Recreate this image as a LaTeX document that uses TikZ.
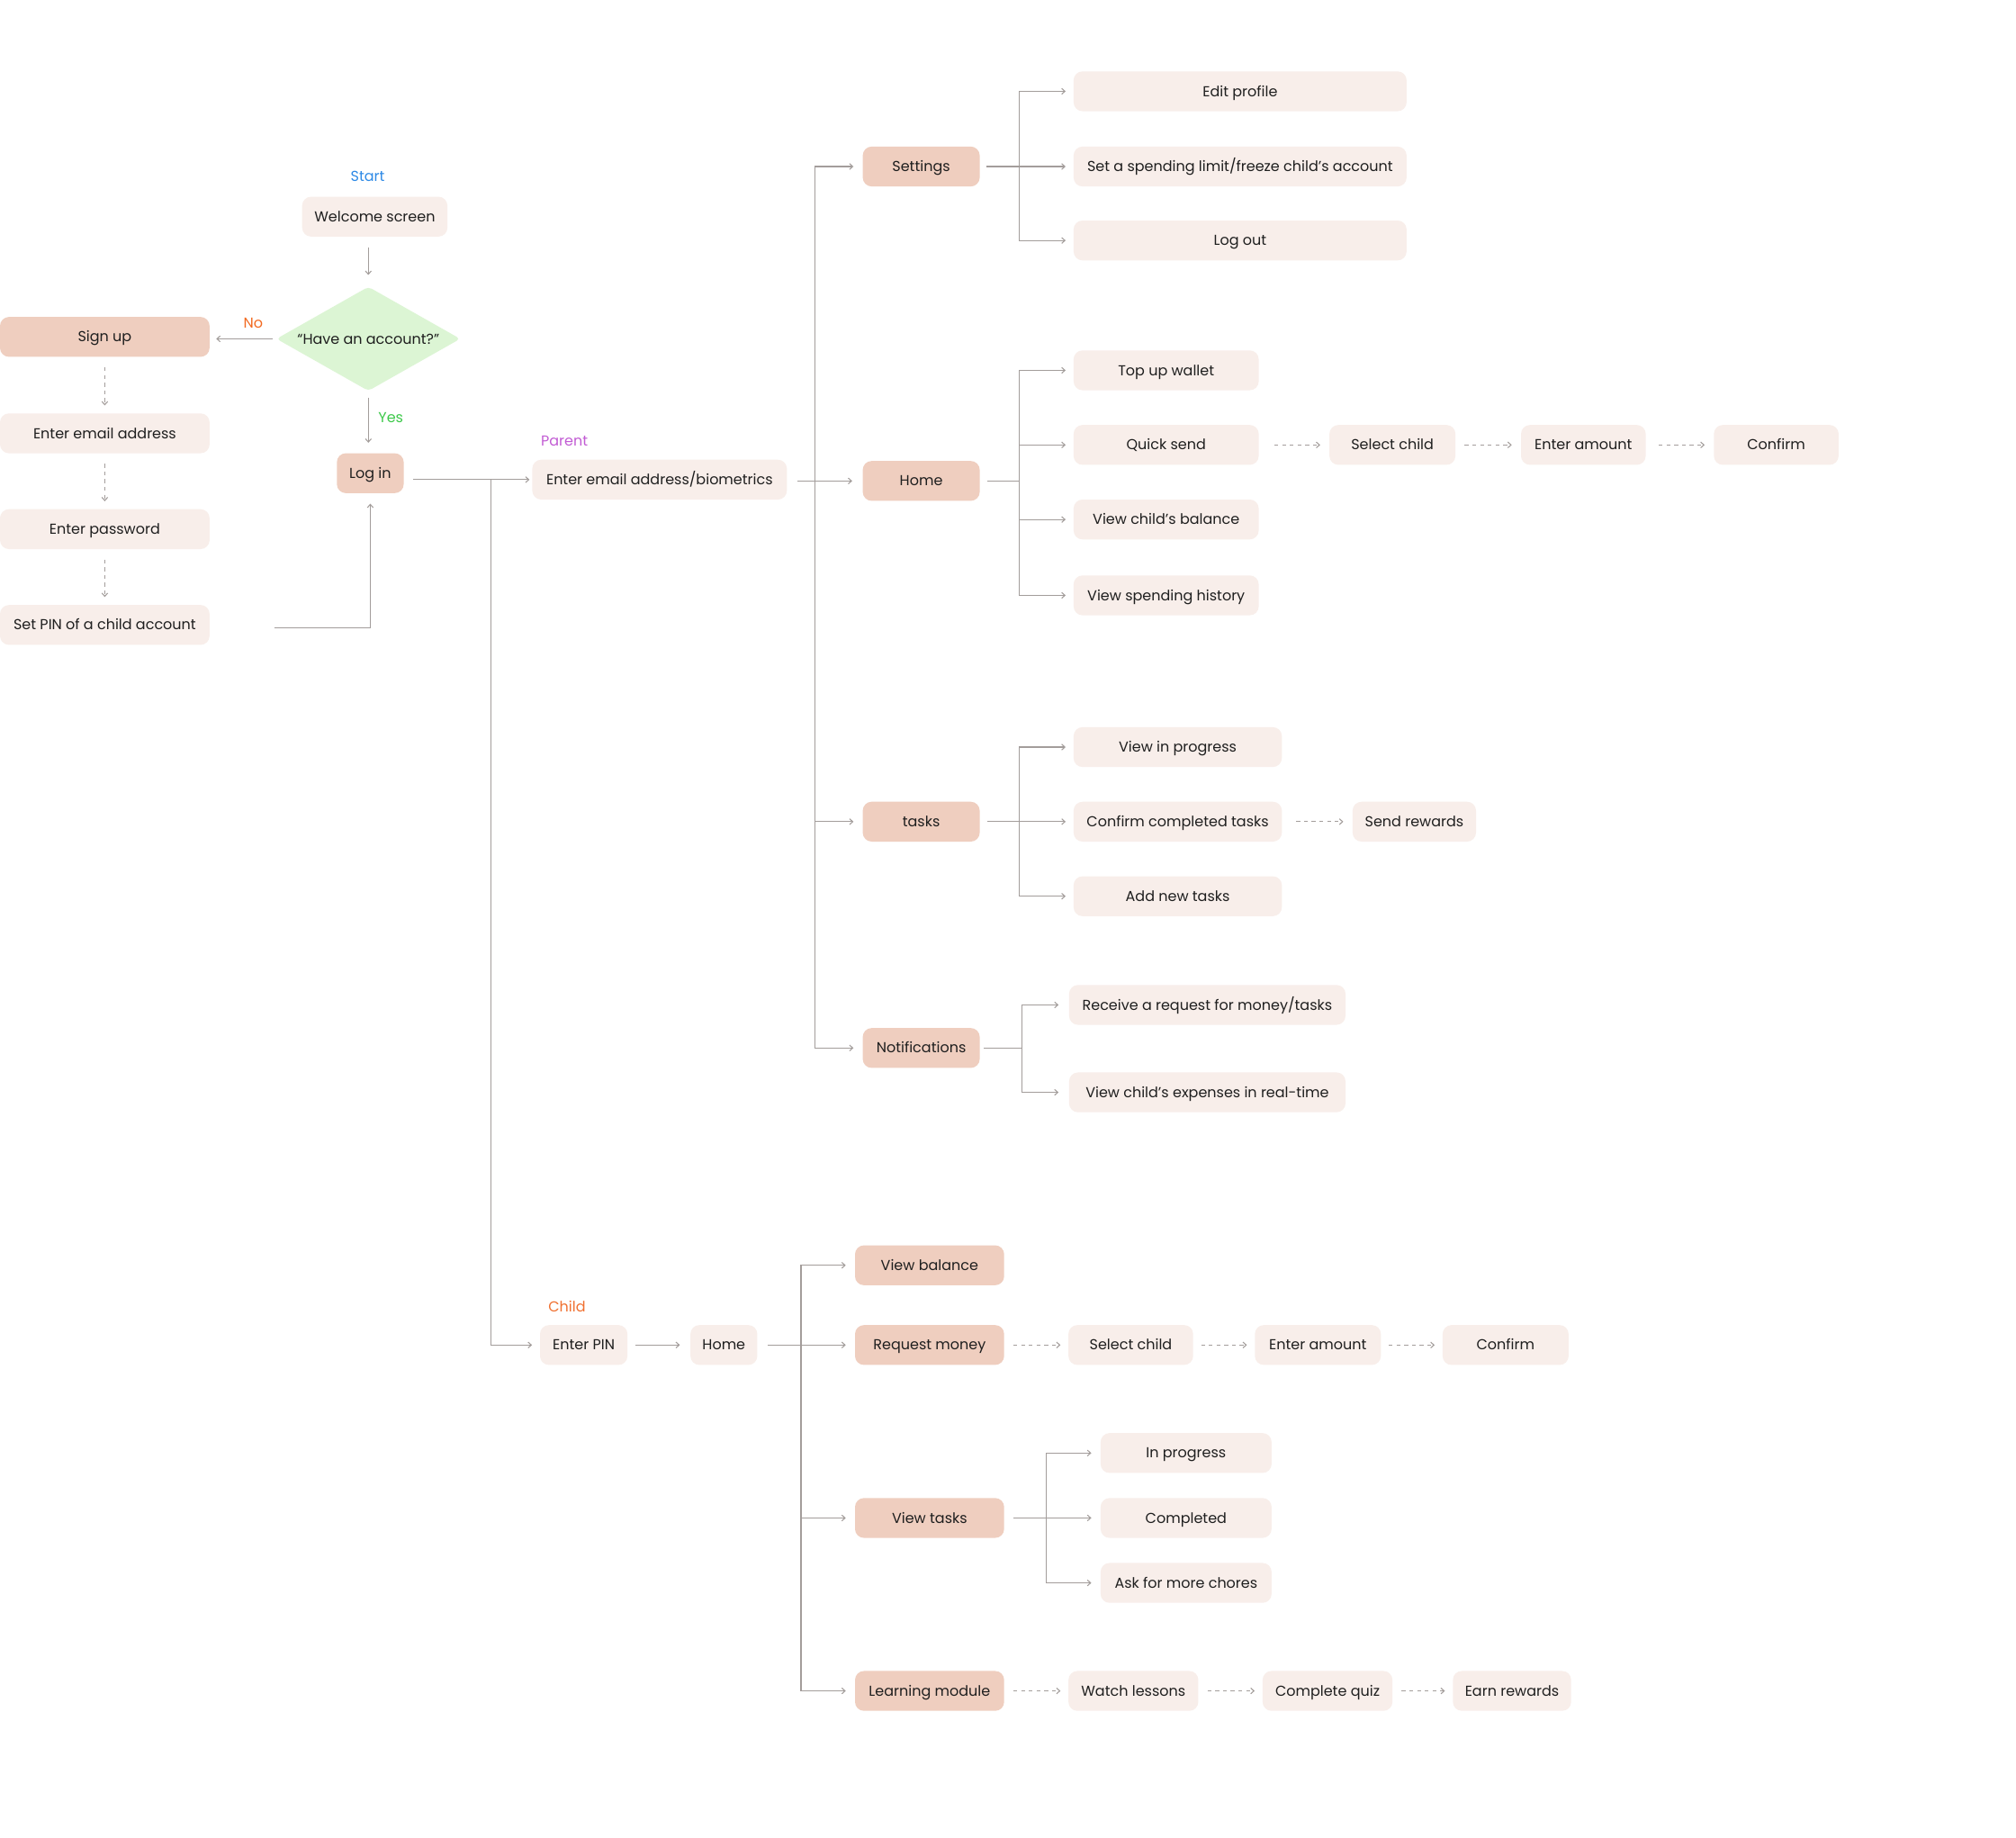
\documentclass[tikz,border=0pt]{standalone}
\usepackage{fontspec}
\setmainfont{Poppins}
\usetikzlibrary{arrows.meta,shapes.geometric}
\definecolor{boxlight}{HTML}{F8EEEA}
\definecolor{boxdark}{HTML}{EFCEBF}
\definecolor{diamfill}{HTML}{DCF5D4}
\definecolor{linec}{HTML}{A39D9B}
\definecolor{txt}{HTML}{1F1F1F}
\definecolor{cStart}{HTML}{2E8AE6}
\definecolor{cNo}{HTML}{F26A21}
\definecolor{cYes}{HTML}{3DC94A}
\definecolor{cParent}{HTML}{C25CD4}
\definecolor{cChild}{HTML}{F07030}
\tikzset{
  fnt/.style={font=\fontsize{11.2}{13}\selectfont, text height=7.9pt, text depth=0pt},
  base/.style={fnt, rounded corners=7pt, minimum height=31pt, inner sep=0pt, text=txt},
  lbox/.style={base, fill=boxlight},
  dbox/.style={base, fill=boxdark},
  diam/.style={diamond, fill=diamfill, rounded corners=3pt, minimum width=143pt, minimum height=81pt, inner sep=0pt, aspect=1.77, text=txt, fnt},
  lab/.style={inner sep=0pt, fnt},
  ln/.style={draw=linec, line width=0.75pt},
  arr/.style={ln, -{Straight Barb[length=2.5pt,width=4.5pt]}},
  dsh/.style={arr, dash pattern=on 3pt off 3pt, shorten <=7pt, shorten >=7pt},
}
\begin{document}
\begin{tikzpicture}[x=1pt,y=-1pt]
\fill[white] (0,0) rectangle (1568,1429);
\useasboundingbox (0,0) rectangle (1568,1429);

% ---------- left column ----------
\node[lab, text=cStart] (start) at (286,137) {Start};
\node[lbox, minimum width=113pt] (welcome) at (291.5,168.5) {Welcome screen};
\node[diam] (q) at (286.5,263.5) {“Have an account?”};
\node[lab, text=cNo] (nolab) at (197,251) {No};
\node[dbox, minimum width=163pt] (signup) at (81.5,262) {Sign up};
\node[lab, text=cYes] (yeslab) at (304,325) {Yes};
\node[dbox, minimum width=52pt] (login) at (288,368) {Log in};
\node[lbox, minimum width=163pt] (email) at (81.5,337) {Enter email address};
\node[lbox, minimum width=163pt] (pass) at (81.5,411.5) {Enter password};
\node[lbox, minimum width=163pt] (pin) at (81.5,486) {Set PIN of a child account};

\draw[arr, shorten <=8pt, shorten >=9pt] (welcome.south -| q.north) -- (q.north);
\draw[arr, shorten <=3pt, shorten >=5pt] (q.west) -- (q.west -| signup.east);
\draw[arr, shorten <=5pt, shorten >=8pt] (q.south) -- (q.south |- login.north);
\draw[dsh, shorten <=8pt, shorten >=6pt] (signup) -- (email);
\draw[dsh, shorten <=8pt, shorten >=6pt] (email) -- (pass);
\draw[dsh, shorten <=8pt, shorten >=6pt] (pass) -- (pin);
\draw[arr, shorten <=50pt, shorten >=8pt] ([yshift=-2pt]pin.east) -| (login.south);

% ---------- parent ----------
\node[lab, text=cParent] (parentlab) at (439,343) {Parent};
\node[lbox, minimum width=198pt] (pemail) at (513,373) {Enter email address/biometrics};
\node[dbox, minimum width=91pt] (settings) at (716.5,129.5) {Settings};
\node[dbox, minimum width=91pt] (phome) at (716.5,374) {Home};
\node[dbox, minimum width=91pt] (tasks) at (716.5,639) {tasks};
\node[dbox, minimum width=91pt] (notif) at (716.5,815) {Notifications};

\draw[arr, shorten <=7pt, shorten >=2pt] (login.east |- pemail.west) -- (pemail.west);

\coordinate (pj) at (634,374);
\draw[arr, shorten <=8pt, shorten >=8pt] (pemail.east |- phome.west) -- (phome.west);
\draw[arr, shorten >=7pt] (pj) |- (settings.west);
\draw[arr, shorten >=7pt] (pj) |- (tasks.west);
\draw[arr, shorten >=7pt] (pj) |- (notif.west);

% settings children
\node[lbox, minimum width=259pt] (editprof) at (964.5,71) {Edit profile};
\node[lbox, minimum width=259pt] (setlim) at (964.5,129.5) {Set a spending limit/freeze child’s account};
\node[lbox, minimum width=259pt] (logout) at (964.5,187) {Log out};
\coordinate (sj) at (793,129.5);
\draw[arr, shorten <=5pt, shorten >=6pt] (settings.east) -- (setlim.west);
\draw[arr, shorten >=6pt] (sj) |- (editprof.west);
\draw[arr, shorten >=6pt] (sj) |- (logout.west);

% home children
\node[lbox, minimum width=144pt] (topup) at (907,288) {Top up wallet};
\node[lbox, minimum width=144pt] (quick) at (907,346) {Quick send};
\node[lbox, minimum width=144pt] (viewbal) at (907,404) {View child’s balance};
\node[lbox, minimum width=144pt] (history) at (907,463) {View spending history};
\node[lbox, minimum width=98pt] (selchild) at (1083,346) {Select child};
\node[lbox, minimum width=97pt] (amount) at (1231.5,346) {Enter amount};
\node[lbox, minimum width=97pt] (confirm) at (1381.5,346) {Confirm};
\coordinate (hj) at (793,374);
\draw[ln, shorten <=6pt] (phome.east) -- (hj);
\draw[arr, shorten >=6pt] (hj) |- (topup.west);
\draw[arr, shorten >=6pt] (hj) |- (quick.west);
\draw[arr, shorten >=6pt] (hj) |- (viewbal.west);
\draw[arr, shorten >=6pt] (hj) |- (history.west);
\draw[dsh, shorten <=12pt] (quick) -- (selchild);
\draw[dsh] (selchild) -- (amount);
\draw[dsh, shorten <=10pt] (amount) -- (confirm);

% tasks children
\node[lbox, minimum width=162pt] (inprog) at (916,581) {View in progress};
\node[lbox, minimum width=162pt] (confirmct) at (916,639) {Confirm completed tasks};
\node[lbox, minimum width=162pt] (addnew) at (916,697) {Add new tasks};
\node[lbox, minimum width=96pt] (sendrew) at (1100,639) {Send rewards};
\coordinate (tj) at (793,639);
\draw[arr, shorten <=6pt, shorten >=6pt] (tasks.east) -- (confirmct.west);
\draw[arr, shorten >=6pt] (tj) |- (inprog.west);
\draw[arr, shorten >=6pt] (tj) |- (addnew.west);
\draw[dsh, shorten <=11pt] (confirmct) -- (sendrew);

% notifications children
\node[lbox, minimum width=215pt] (receive) at (939,781.5) {Receive a request for money/tasks};
\node[lbox, minimum width=215pt] (expenses) at (939,849.5) {View child’s expenses in real-time};
\coordinate (nj) at (795,815);
\draw[ln, shorten <=3pt] (notif.east) -- (nj);
\draw[arr, shorten >=8pt] (nj) |- (receive.west);
\draw[arr, shorten >=8pt] (nj) |- (expenses.west);

% ---------- child ----------
\node[lab, text=cChild] (childlab) at (441,1016) {Child};
\node[lbox, minimum width=68pt] (enterpin) at (454,1046) {Enter PIN};
\node[lbox, minimum width=52pt] (chome) at (563,1046) {Home};
\node[dbox, minimum width=116pt] (viewbalc) at (723,984) {View balance};
\node[dbox, minimum width=116pt] (reqmoney) at (723,1046) {Request money};
\node[dbox, minimum width=116pt] (viewtasks) at (723,1180.5) {View tasks};
\node[dbox, minimum width=116pt] (learning) at (723,1315) {Learning module};

\coordinate (lj) at (382,373);
\draw[arr, shorten >=6pt] (lj) |- (enterpin.west);

\draw[arr, shorten <=6pt, shorten >=8pt] (enterpin) -- (chome);
\coordinate (cj) at (623,1046);
\draw[arr, shorten <=8pt, shorten >=7pt] (chome) -- (reqmoney);
\draw[arr, shorten >=7pt] (cj) |- (viewbalc.west);
\draw[arr, shorten >=7pt] (cj) |- (viewtasks.west);
\draw[arr, shorten >=7pt] (cj) |- (learning.west);

\node[lbox, minimum width=97pt] (selchild2) at (879.5,1046) {Select child};
\node[lbox, minimum width=98pt] (amount2) at (1025,1046) {Enter amount};
\node[lbox, minimum width=98pt] (confirm2) at (1171,1046) {Confirm};
\draw[dsh, shorten >=6pt] (reqmoney) -- (selchild2);
\draw[dsh, shorten <=6pt, shorten >=6pt] (selchild2) -- (amount2);
\draw[dsh, shorten <=6pt, shorten >=6pt] (amount2) -- (confirm2);

\node[lbox, minimum width=133pt] (inprog2) at (922.5,1130) {In progress};
\node[lbox, minimum width=133pt] (completed) at (922.5,1180.5) {Completed};
\node[lbox, minimum width=133pt] (askmore) at (922.5,1231) {Ask for more chores};
\coordinate (vj) at (814,1180.5);
\draw[arr, shorten <=7pt, shorten >=7pt] (viewtasks) -- (completed);
\draw[arr, shorten >=7pt] (vj) |- (inprog2.west);
\draw[arr, shorten >=7pt] (vj) |- (askmore.west);

\node[lbox, minimum width=101pt] (watch) at (881.5,1315) {Watch lessons};
\node[lbox, minimum width=101pt] (quiz) at (1032.5,1315) {Complete quiz};
\node[lbox, minimum width=92pt] (earn) at (1176,1315) {Earn rewards};
\draw[dsh, shorten >=6pt] (learning) -- (watch);
\draw[dsh, shorten >=6pt] (watch) -- (quiz);
\draw[dsh, shorten >=6pt] (quiz) -- (earn);
\end{tikzpicture}
\end{document}
